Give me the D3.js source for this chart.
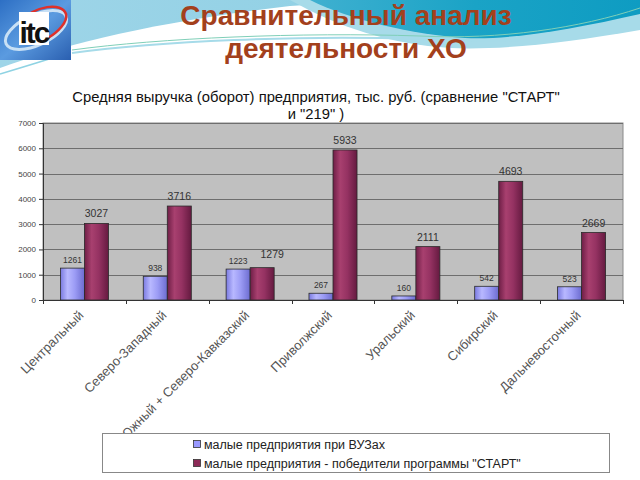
<!DOCTYPE html>
<html><head><meta charset="utf-8">
<script src="https://cdn.jsdelivr.net/npm/d3@7"></script>
<style>html,body{margin:0;padding:0;background:#fff;}svg{display:block;}</style>
</head><body>
<script>
const categories = ["Центральный","Северо-Западный","Южный + Северо-Кавказский","Приволжский","Уральский","Сибирский","Дальневосточный"];
const seriesNames = ["малые предприятия  при ВУЗах","малые предприятия - победители программы \"СТАРТ\""];
const vuzValues = [1261, 938, 1223, 267, 160, 542, 523];
const startValues = [3027, 3716, 1279, 5933, 2111, 4693, 2669];
const yTicks = [0,1000,2000,3000,4000,5000,6000,7000];

const W = 640, H = 480;
const svg = d3.select("body").append("svg").attr("width", W).attr("height", H);
const defs = svg.append("defs");
const FONT = "Liberation Sans, Arial, sans-serif";

// ---- header decoration ----
const gTop = defs.append("linearGradient").attr("id","topg").attr("x1","0").attr("x2","1").attr("y1","0").attr("y2","0");
gTop.append("stop").attr("offset","0").attr("stop-color","#9fd5e8");
gTop.append("stop").attr("offset","0.5").attr("stop-color","#92d1e5");
gTop.append("stop").attr("offset","1").attr("stop-color","#5fbfd8");
const gTeal = defs.append("linearGradient").attr("id","tealg").attr("x1","0").attr("x2","1").attr("y1","0").attr("y2","0");
gTeal.append("stop").attr("offset","0").attr("stop-color","#3fb0d0");
gTeal.append("stop").attr("offset","0.5").attr("stop-color","#1aa3c6");
gTeal.append("stop").attr("offset","1").attr("stop-color","#0e9cc2");

svg.append("path").attr("fill","url(#topg)")
  .attr("d","M0,0 L640,0 L640,40 C560,60 480,62 420,58 L0,78 Z");
svg.append("path").attr("fill","#fff")
  .attr("d","M0,68 C60,46 150,22 290,6 C380,0 460,0 640,0 L640,80 L0,80 Z");
svg.append("path").attr("fill","#a7dbe9")
  .attr("d","M290,0 L640,0 L640,30 C560,44 500,50 450,48 C390,44 340,28 290,0 Z");
svg.append("path").attr("fill","url(#tealg)")
  .attr("d","M310,0 L640,0 L640,14 C570,30 510,40 465,38 C410,34 350,20 310,0 Z");
svg.append("path").attr("fill","none").attr("stroke","#7fcfb8").attr("stroke-width",1)
  .attr("d","M72,50 C160,38 300,32 420,36 C500,40 580,28 640,8");
svg.append("path").attr("fill","none").attr("stroke","#a6dbe9").attr("stroke-width",2)
  .attr("d","M72,53 C160,41 300,35 420,39 C470,41 500,42 520,40");
svg.append("path").attr("fill","none").attr("stroke","#8fd3e3").attr("stroke-width",1.5)
  .attr("d","M0,74 C40,62 60,56 70,52");

// logo
const gLogo = defs.append("linearGradient").attr("id","logog").attr("x1","0").attr("x2","1").attr("y1","0").attr("y2","1");
gLogo.append("stop").attr("offset","0").attr("stop-color","#2d6fc4");
gLogo.append("stop").attr("offset","0.5").attr("stop-color","#5b9be0");
gLogo.append("stop").attr("offset","1").attr("stop-color","#2a5fb0");
svg.append("rect").attr("x",0).attr("y",0).attr("width",71).attr("height",60).attr("fill","url(#logog)");
svg.append("ellipse").attr("cx",36).attr("cy",30).attr("rx",33).attr("ry",15)
  .attr("transform","rotate(-25,36,30)").attr("fill","none").attr("stroke","#c8e0f5").attr("stroke-width",3);
svg.append("path").attr("d","M20,22 C35,5 62,2 66,14 C68,22 58,32 48,38").attr("fill","none").attr("stroke","#e0302a").attr("stroke-width",2.5);
svg.append("rect").attr("x",19).attr("y",12).attr("width",30).attr("height",33).attr("fill","#fff");
svg.append("text").attr("x",34).attr("y",43).attr("text-anchor","middle")
  .attr("font-family",FONT).attr("font-weight","bold").attr("font-size",30)
  .attr("fill","#111").attr("letter-spacing",-2).text("itc");

// title
const titleG = svg.append("g").attr("font-family",FONT).attr("font-weight","bold")
  .attr("font-size",28).attr("fill","#a3401c").attr("text-anchor","middle");
titleG.append("text").attr("x",346).attr("y",25).text("Сравнительный анализ");
titleG.append("text").attr("x",346).attr("y",58).text("деятельности ХО");

// chart title
const ctG = svg.append("g").attr("font-family",FONT)
  .attr("font-size",14.8).attr("fill","#111").attr("text-anchor","middle");
ctG.append("text").attr("x",316).attr("y",102).text("Средняя выручка (оборот) предприятия, тыс. руб. (сравнение \"СТАРТ\"");
ctG.append("text").attr("x",316).attr("y",119).text("и \"219\" )");

// ---- chart ----
const plot = {left:43, right:623, top:123, bottom:300};
const x0 = d3.scaleBand().domain(categories).range([plot.left, plot.right]).paddingInner(0.42).paddingOuter(0.21);
const x1 = d3.scaleBand().domain([0,1]).range([0, x0.bandwidth()]);
const y = d3.scaleLinear().domain([0,7000]).range([plot.bottom, plot.top]);

svg.append("rect").attr("x",plot.left).attr("y",plot.top).attr("width",plot.right-plot.left).attr("height",plot.bottom-plot.top)
  .attr("fill","#c0c0c0").attr("stroke","#8a8a8a").attr("stroke-width",1);

svg.append("g").selectAll("line").data(yTicks.slice(1)).join("line")
  .attr("x1",plot.left).attr("x2",plot.right)
  .attr("y1",d=>Math.round(y(d))+0.5).attr("y2",d=>Math.round(y(d))+0.5)
  .attr("stroke","#6e6e6e").attr("stroke-width",1);

function grad(id, stops){
  const g = defs.append("linearGradient").attr("id",id).attr("x1","0").attr("x2","1").attr("y1","0").attr("y2","0");
  stops.forEach(s=>g.append("stop").attr("offset",s[0]).attr("stop-color",s[1]));
}
grad("gb", [[0,"#7a7ae0"],[0.3,"#b8b8ff"],[0.6,"#9c9cf5"],[1,"#6c6cd0"]]);
grad("gr", [[0,"#6e1e46"],[0.3,"#a8406f"],[0.6,"#953262"],[1,"#651a40"]]);
const fills = ["url(#gb)","url(#gr)"];

const groups = svg.append("g").selectAll("g").data(categories).join("g")
  .attr("transform", c=>`translate(${x0(c)},0)`);
groups.each(function(c,i){
  const g = d3.select(this);
  const vals = [vuzValues[i], startValues[i]];
  vals.forEach((v,s)=>{
    g.append("rect").attr("x",x1(s)).attr("y",y(v)).attr("width",x1.bandwidth()).attr("height",y(0)-y(v))
      .attr("fill",fills[s]).attr("stroke","#2a2a2a").attr("stroke-width",0.8);
  });
  const close = Math.abs(vals[1]-vals[0]) < 500;
  g.append("text").attr("x",x1(0)+x1.bandwidth()/2).attr("y",y(vals[0])-5)
    .attr("text-anchor","middle").attr("font-family",FONT).attr("font-size",8.5)
    .attr("fill","#333").text(vals[0]);
  g.append("text").attr("x",x1(1)+x1.bandwidth()/2 + (close?10:0)).attr("y",y(vals[1])-6-(close?4:0))
    .attr("text-anchor","middle").attr("font-family",FONT).attr("font-size",10.5)
    .attr("fill","#333").text(vals[1]);
});

// axes
const yAxis = svg.append("g").attr("transform",`translate(${plot.left},0)`)
  .call(d3.axisLeft(y).tickValues(yTicks).tickSize(4).tickPadding(3).tickFormat(d3.format("d")));
yAxis.select(".domain").attr("stroke","#333");
yAxis.selectAll(".tick line").attr("stroke","#333");
yAxis.selectAll("text").attr("font-family",FONT).attr("font-size",8).attr("fill","#444");

svg.append("line").attr("x1",plot.left).attr("x2",plot.right).attr("y1",plot.bottom+0.5).attr("y2",plot.bottom+0.5).attr("stroke","#333");
const step = x0.step();
svg.append("g").selectAll("line").data(d3.range(categories.length+1)).join("line")
  .attr("x1",i=>Math.round(plot.left+i*step)+0.5).attr("x2",i=>Math.round(plot.left+i*step)+0.5)
  .attr("y1",plot.bottom).attr("y2",plot.bottom+4).attr("stroke","#333");

svg.append("g").selectAll("text").data(categories).join("text")
  .attr("transform", c=>`translate(${x0(c)+x0.bandwidth()/2},316) rotate(-45)`)
  .attr("text-anchor","end").attr("font-family",FONT).attr("font-size",13)
  .attr("fill","#555").text(c=>c);

// legend
const lg = svg.append("g");
lg.append("rect").attr("x",102.5).attr("y",433.5).attr("width",507).attr("height",39).attr("fill","#fff").attr("stroke","#888");
seriesNames.forEach((n,i)=>{
  const yy = 445 + i*19;
  lg.append("rect").attr("x",193.5).attr("y",yy-4.5).attr("width",7).attr("height",7).attr("fill",i?"#8c2a57":"#9999ff").attr("stroke","#333").attr("stroke-width",0.8);
  lg.append("text").attr("x",204).attr("y",yy+4).attr("font-family",FONT).attr("font-size",12.5).attr("fill","#222").text(n);
});
</script>
</body></html>
